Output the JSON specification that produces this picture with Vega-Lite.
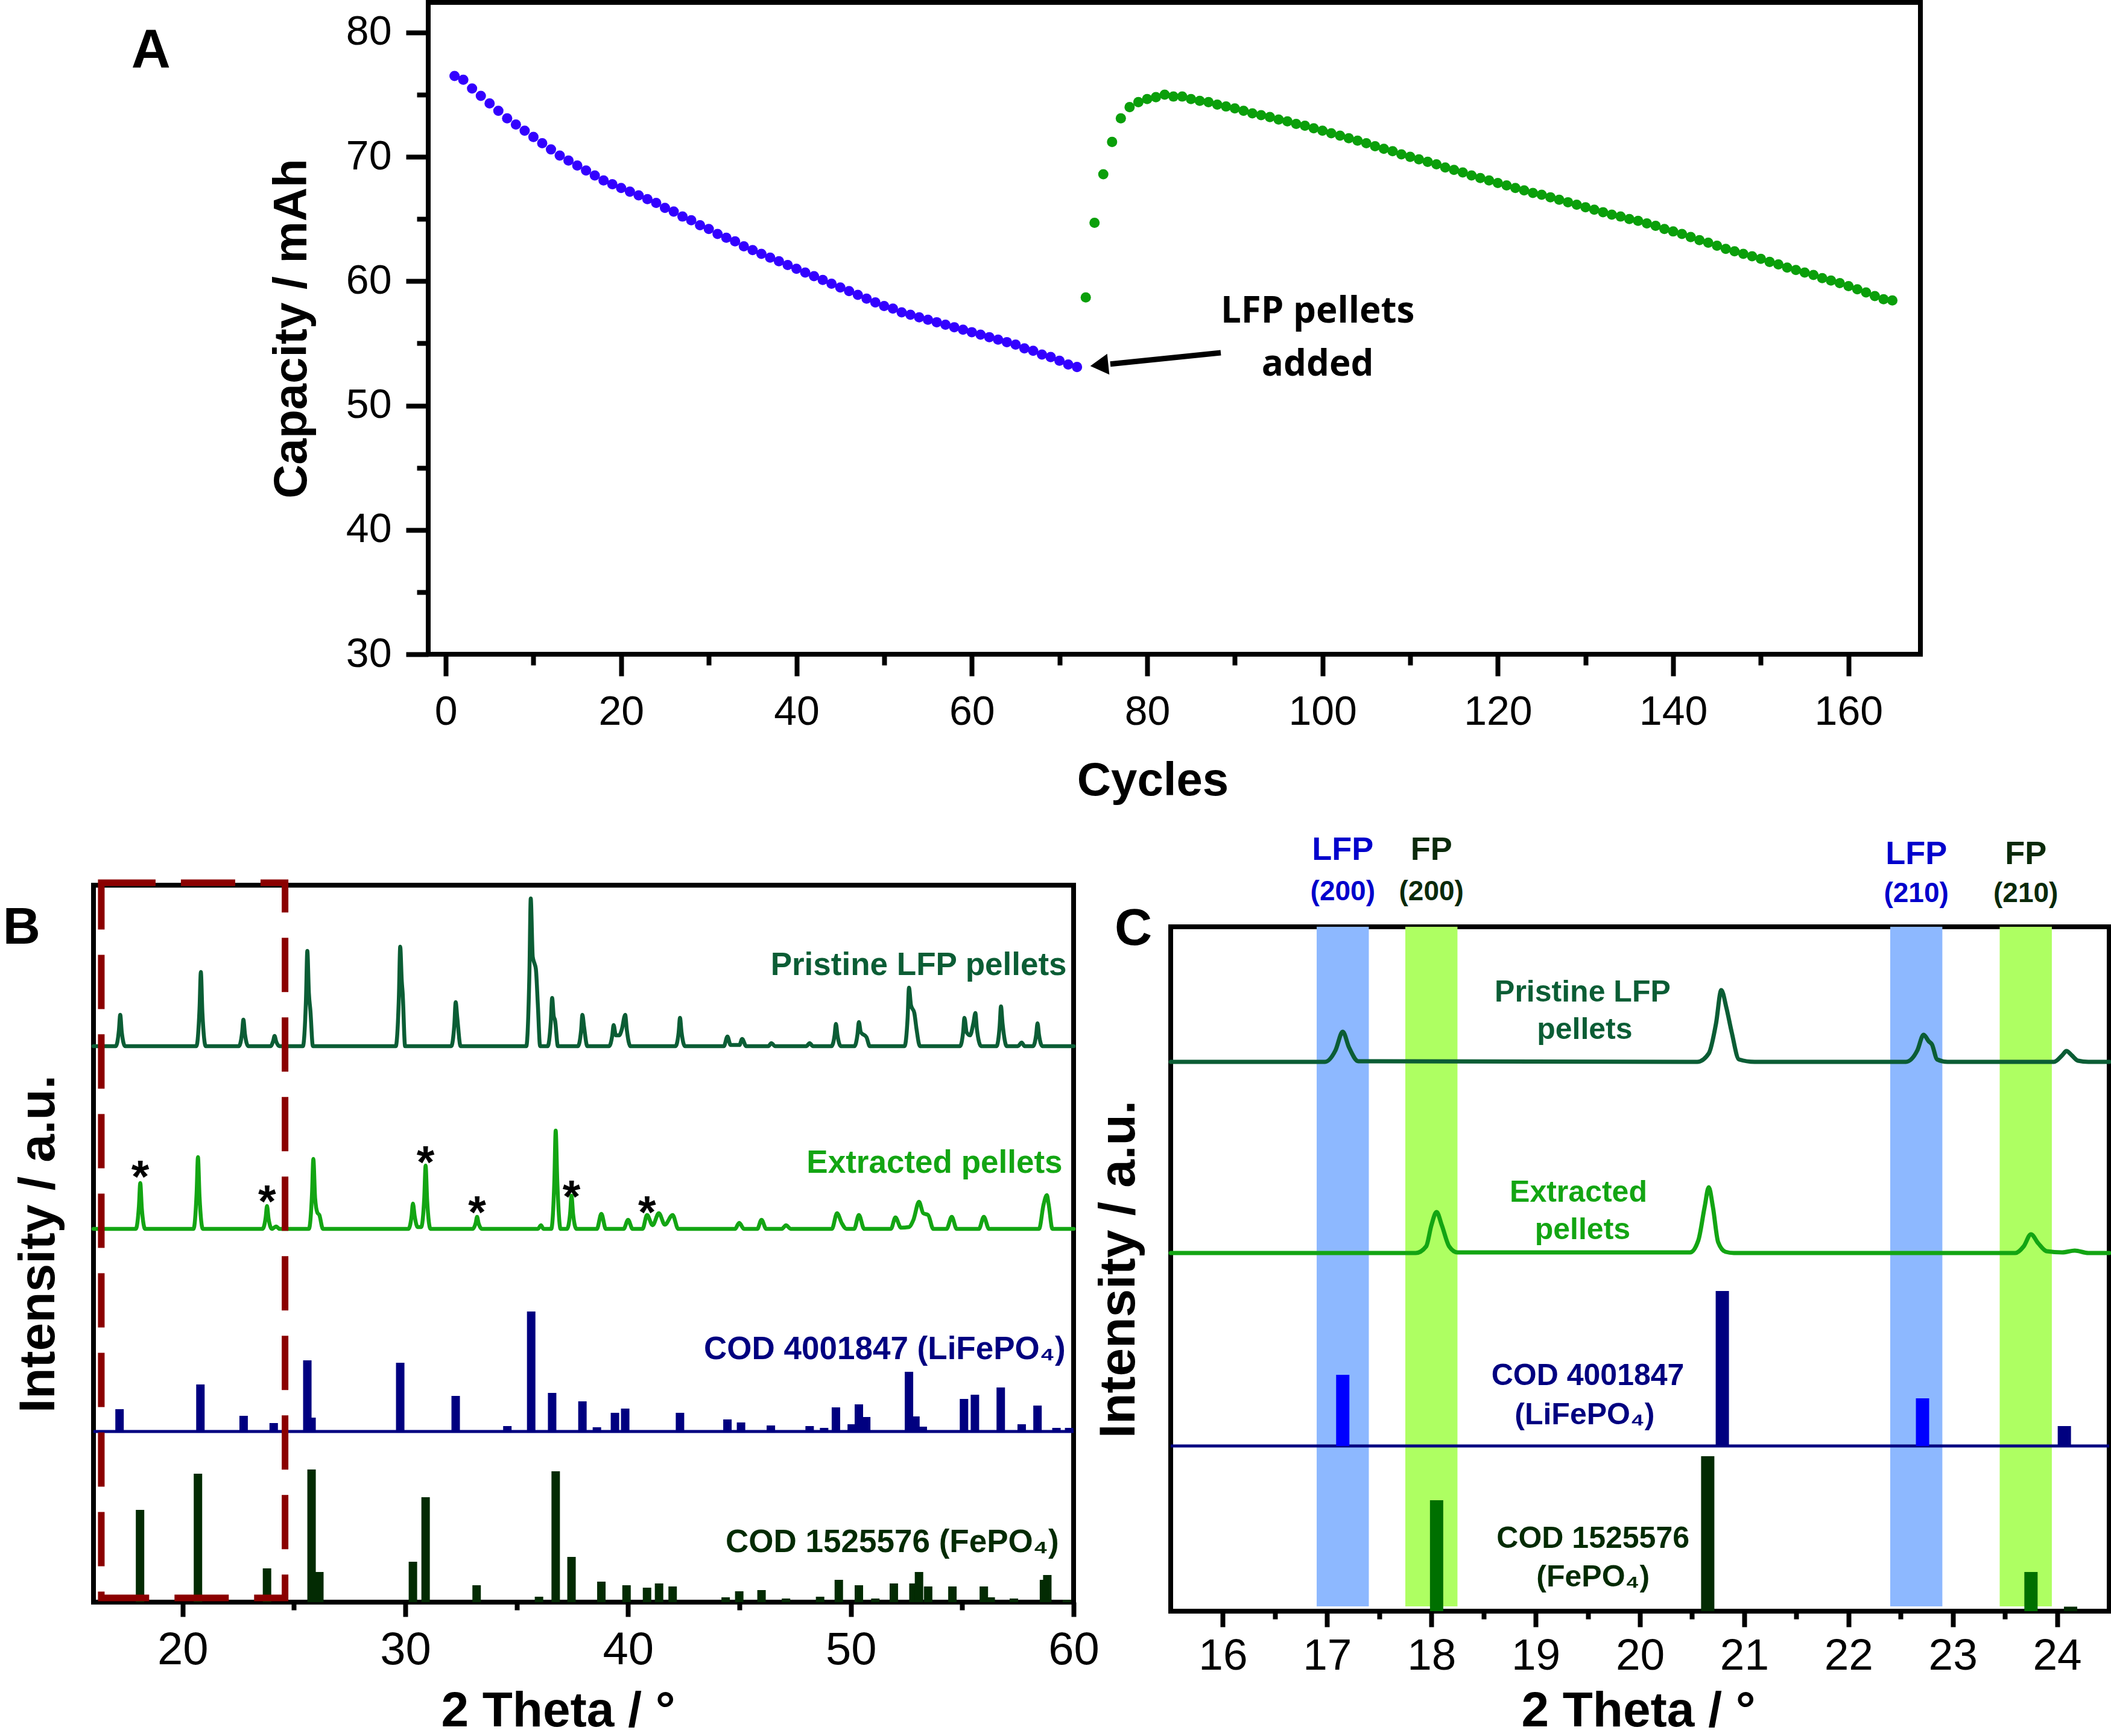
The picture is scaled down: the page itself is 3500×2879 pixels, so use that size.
{
  "$schema": "https://vega.github.io/schema/vega-lite/v6.json",
  "background": "white",
  "padding": 0,
  "bounds": "flush",
  "spacing": 383,
  "resolve": {"scale": {"color": "independent"}},
  "config": {
    "font": "Liberation Sans",
    "view": {"stroke": "black", "strokeWidth": 8},
    "axis": {
      "grid": false,
      "domain": false,
      "labelFlush": false,
      "labelOverlap": false,
      "tickColor": "black",
      "tickWidth": 8,
      "tickCap": "butt",
      "labelColor": "black",
      "labelFont": "Liberation Sans",
      "titleColor": "black",
      "titleFont": "Liberation Sans",
      "titleFontWeight": "bold"
    }
  },
  "vconcat": [
    {
      "width": 3029,
      "height": 1081,
      "view": {"stroke": null},
      "layer": [
        {
          "data": {"values": [
            {"cycle":1,"capacity":76.5,"stage":"before"},{"cycle":2,"capacity":76.2,"stage":"before"},{"cycle":3,"capacity":75.5,"stage":"before"},{"cycle":4,"capacity":74.9,"stage":"before"},{"cycle":5,"capacity":74.3,"stage":"before"},{"cycle":6,"capacity":73.7,"stage":"before"},{"cycle":7,"capacity":73.1,"stage":"before"},{"cycle":8,"capacity":72.6,"stage":"before"},{"cycle":9,"capacity":72.1,"stage":"before"},{"cycle":10,"capacity":71.6,"stage":"before"},
            {"cycle":11,"capacity":71.1,"stage":"before"},{"cycle":12,"capacity":70.6,"stage":"before"},{"cycle":13,"capacity":70.1,"stage":"before"},{"cycle":14,"capacity":69.7,"stage":"before"},{"cycle":15,"capacity":69.3,"stage":"before"},{"cycle":16,"capacity":68.9,"stage":"before"},{"cycle":17,"capacity":68.5,"stage":"before"},{"cycle":18,"capacity":68.1,"stage":"before"},{"cycle":19,"capacity":67.8,"stage":"before"},{"cycle":20,"capacity":67.5,"stage":"before"},
            {"cycle":21,"capacity":67.2,"stage":"before"},{"cycle":22,"capacity":66.9,"stage":"before"},{"cycle":23,"capacity":66.6,"stage":"before"},{"cycle":24,"capacity":66.3,"stage":"before"},{"cycle":25,"capacity":65.9,"stage":"before"},{"cycle":26,"capacity":65.6,"stage":"before"},{"cycle":27,"capacity":65.2,"stage":"before"},{"cycle":28,"capacity":64.9,"stage":"before"},{"cycle":29,"capacity":64.5,"stage":"before"},{"cycle":30,"capacity":64.2,"stage":"before"},
            {"cycle":31,"capacity":63.8,"stage":"before"},{"cycle":32,"capacity":63.5,"stage":"before"},{"cycle":33,"capacity":63.2,"stage":"before"},{"cycle":34,"capacity":62.8,"stage":"before"},{"cycle":35,"capacity":62.5,"stage":"before"},{"cycle":36,"capacity":62.2,"stage":"before"},{"cycle":37,"capacity":61.9,"stage":"before"},{"cycle":38,"capacity":61.6,"stage":"before"},{"cycle":39,"capacity":61.3,"stage":"before"},{"cycle":40,"capacity":61.0,"stage":"before"},
            {"cycle":41,"capacity":60.7,"stage":"before"},{"cycle":42,"capacity":60.4,"stage":"before"},{"cycle":43,"capacity":60.1,"stage":"before"},{"cycle":44,"capacity":59.8,"stage":"before"},{"cycle":45,"capacity":59.5,"stage":"before"},{"cycle":46,"capacity":59.2,"stage":"before"},{"cycle":47,"capacity":58.9,"stage":"before"},{"cycle":48,"capacity":58.6,"stage":"before"},{"cycle":49,"capacity":58.3,"stage":"before"},{"cycle":50,"capacity":58.0,"stage":"before"},
            {"cycle":51,"capacity":57.8,"stage":"before"},{"cycle":52,"capacity":57.5,"stage":"before"},{"cycle":53,"capacity":57.3,"stage":"before"},{"cycle":54,"capacity":57.1,"stage":"before"},{"cycle":55,"capacity":56.9,"stage":"before"},{"cycle":56,"capacity":56.7,"stage":"before"},{"cycle":57,"capacity":56.5,"stage":"before"},{"cycle":58,"capacity":56.3,"stage":"before"},{"cycle":59,"capacity":56.1,"stage":"before"},{"cycle":60,"capacity":55.9,"stage":"before"},
            {"cycle":61,"capacity":55.7,"stage":"before"},{"cycle":62,"capacity":55.5,"stage":"before"},{"cycle":63,"capacity":55.3,"stage":"before"},{"cycle":64,"capacity":55.1,"stage":"before"},{"cycle":65,"capacity":54.9,"stage":"before"},{"cycle":66,"capacity":54.6,"stage":"before"},{"cycle":67,"capacity":54.4,"stage":"before"},{"cycle":68,"capacity":54.1,"stage":"before"},{"cycle":69,"capacity":53.9,"stage":"before"},{"cycle":70,"capacity":53.6,"stage":"before"},
            {"cycle":71,"capacity":53.3,"stage":"before"},{"cycle":72,"capacity":53.1,"stage":"before"},
            {"cycle":73,"capacity":58.7,"stage":"after"},{"cycle":74,"capacity":64.7,"stage":"after"},{"cycle":75,"capacity":68.6,"stage":"after"},{"cycle":76,"capacity":71.2,"stage":"after"},{"cycle":77,"capacity":73.1,"stage":"after"},{"cycle":78,"capacity":74.0,"stage":"after"},{"cycle":79,"capacity":74.4,"stage":"after"},{"cycle":80,"capacity":74.65,"stage":"after"},
            {"cycle":81,"capacity":74.8,"stage":"after"},{"cycle":82,"capacity":75.0,"stage":"after"},{"cycle":83,"capacity":74.85,"stage":"after"},{"cycle":84,"capacity":74.85,"stage":"after"},{"cycle":85,"capacity":74.65,"stage":"after"},{"cycle":86,"capacity":74.5,"stage":"after"},{"cycle":87,"capacity":74.4,"stage":"after"},{"cycle":88,"capacity":74.2,"stage":"after"},{"cycle":89,"capacity":74.05,"stage":"after"},{"cycle":90,"capacity":73.9,"stage":"after"},
            {"cycle":91,"capacity":73.7,"stage":"after"},{"cycle":92,"capacity":73.5,"stage":"after"},{"cycle":93,"capacity":73.35,"stage":"after"},{"cycle":94,"capacity":73.2,"stage":"after"},{"cycle":95,"capacity":73.0,"stage":"after"},{"cycle":96,"capacity":72.85,"stage":"after"},{"cycle":97,"capacity":72.65,"stage":"after"},{"cycle":98,"capacity":72.5,"stage":"after"},{"cycle":99,"capacity":72.3,"stage":"after"},{"cycle":100,"capacity":72.1,"stage":"after"},
            {"cycle":101,"capacity":71.9,"stage":"after"},{"cycle":102,"capacity":71.7,"stage":"after"},{"cycle":103,"capacity":71.5,"stage":"after"},{"cycle":104,"capacity":71.3,"stage":"after"},{"cycle":105,"capacity":71.1,"stage":"after"},{"cycle":106,"capacity":70.85,"stage":"after"},{"cycle":107,"capacity":70.65,"stage":"after"},{"cycle":108,"capacity":70.45,"stage":"after"},{"cycle":109,"capacity":70.2,"stage":"after"},{"cycle":110,"capacity":70.0,"stage":"after"},
            {"cycle":111,"capacity":69.8,"stage":"after"},{"cycle":112,"capacity":69.6,"stage":"after"},{"cycle":113,"capacity":69.4,"stage":"after"},{"cycle":114,"capacity":69.15,"stage":"after"},{"cycle":115,"capacity":68.95,"stage":"after"},{"cycle":116,"capacity":68.75,"stage":"after"},{"cycle":117,"capacity":68.5,"stage":"after"},{"cycle":118,"capacity":68.3,"stage":"after"},{"cycle":119,"capacity":68.1,"stage":"after"},{"cycle":120,"capacity":67.9,"stage":"after"},
            {"cycle":121,"capacity":67.7,"stage":"after"},{"cycle":122,"capacity":67.5,"stage":"after"},{"cycle":123,"capacity":67.3,"stage":"after"},{"cycle":124,"capacity":67.1,"stage":"after"},{"cycle":125,"capacity":66.95,"stage":"after"},{"cycle":126,"capacity":66.75,"stage":"after"},{"cycle":127,"capacity":66.55,"stage":"after"},{"cycle":128,"capacity":66.35,"stage":"after"},{"cycle":129,"capacity":66.15,"stage":"after"},{"cycle":130,"capacity":65.95,"stage":"after"},
            {"cycle":131,"capacity":65.75,"stage":"after"},{"cycle":132,"capacity":65.55,"stage":"after"},{"cycle":133,"capacity":65.35,"stage":"after"},{"cycle":134,"capacity":65.2,"stage":"after"},{"cycle":135,"capacity":65.0,"stage":"after"},{"cycle":136,"capacity":64.85,"stage":"after"},{"cycle":137,"capacity":64.65,"stage":"after"},{"cycle":138,"capacity":64.45,"stage":"after"},{"cycle":139,"capacity":64.2,"stage":"after"},{"cycle":140,"capacity":64.0,"stage":"after"},
            {"cycle":141,"capacity":63.8,"stage":"after"},{"cycle":142,"capacity":63.55,"stage":"after"},{"cycle":143,"capacity":63.3,"stage":"after"},{"cycle":144,"capacity":63.1,"stage":"after"},{"cycle":145,"capacity":62.85,"stage":"after"},{"cycle":146,"capacity":62.6,"stage":"after"},{"cycle":147,"capacity":62.4,"stage":"after"},{"cycle":148,"capacity":62.2,"stage":"after"},{"cycle":149,"capacity":62.0,"stage":"after"},{"cycle":150,"capacity":61.8,"stage":"after"},
            {"cycle":151,"capacity":61.55,"stage":"after"},{"cycle":152,"capacity":61.35,"stage":"after"},{"cycle":153,"capacity":61.1,"stage":"after"},{"cycle":154,"capacity":60.9,"stage":"after"},{"cycle":155,"capacity":60.7,"stage":"after"},{"cycle":156,"capacity":60.5,"stage":"after"},{"cycle":157,"capacity":60.25,"stage":"after"},{"cycle":158,"capacity":60.05,"stage":"after"},{"cycle":159,"capacity":59.85,"stage":"after"},{"cycle":160,"capacity":59.6,"stage":"after"},
            {"cycle":161,"capacity":59.35,"stage":"after"},{"cycle":162,"capacity":59.1,"stage":"after"},{"cycle":163,"capacity":58.8,"stage":"after"},{"cycle":164,"capacity":58.55,"stage":"after"},{"cycle":165,"capacity":58.45,"stage":"after"}
          ]},
          "mark": {"type": "point", "filled": true, "size": 290, "opacity": 1},
          "encoding": {
            "x": {"field": "cycle", "type": "quantitative", "scale": {"domain": [-2, 168.2], "range": [555, 3029], "nice": false, "zero": false},
              "axis": {"orient": "bottom", "values": [0, 20, 40, 60, 80, 100, 120, 140, 160], "tickSize": 36, "labelFontSize": 68, "labelPadding": 26,
                "title": "Cycles", "titleFontSize": 78, "titleX": 1756, "titleY": 233, "titleAlign": "center", "titleBaseline": "alphabetic"}},
            "y": {"field": "capacity", "type": "quantitative", "scale": {"domain": [30, 82.42], "nice": false, "zero": false},
              "axis": {"orient": "left", "offset": -555, "values": [30, 40, 50, 60, 70, 80], "tickSize": 37, "labelFontSize": 68, "labelPadding": 24,
                "title": "Capacity / mAh", "titleFontSize": 78, "titlePadding": 50}},
            "color": {"field": "stage", "type": "nominal", "scale": {"domain": ["before", "after"], "range": ["#3300ff", "#0a9f0a"]}, "legend": null}
          }
        },
        {
          "data": {"values": [{"x": 88.4, "y": 54.25, "x2": 75.8, "y2": 53.34}]},
          "mark": {"type": "rule", "color": "black", "strokeWidth": 9},
          "encoding": {
            "x": {"field": "x", "type": "quantitative", "scale": {"domain": [-2, 168.2], "range": [555, 3029], "nice": false, "zero": false},
              "axis": {"orient": "bottom", "values": [10, 30, 50, 70, 90, 110, 130, 150], "tickSize": 18, "labels": false, "title": null}},
            "y": {"field": "y", "type": "quantitative", "scale": {"domain": [30, 82.42], "nice": false, "zero": false},
              "axis": {"orient": "left", "offset": -555, "values": [35, 45, 55, 65, 75], "tickSize": 19, "labels": false, "title": null}},
            "x2": {"field": "x2"},
            "y2": {"field": "y2"}
          }
        },
        {
          "data": {"values": [{"x": 74.54, "y": 53.25}]},
          "mark": {"type": "point", "shape": "triangle-left", "filled": true, "size": 1200, "angle": 354, "color": "black", "opacity": 1},
          "encoding": {
            "x": {"field": "x", "type": "quantitative", "scale": {"domain": [-2, 168.2], "range": [555, 3029], "nice": false, "zero": false}, "axis": null},
            "y": {"field": "y", "type": "quantitative", "scale": {"domain": [30, 82.42], "nice": false, "zero": false}, "axis": null}
          }
        },
        {
          "data": {"values": [{"x": 99.45, "y": 56.67, "text": "LFP pellets"}, {"x": 99.45, "y": 52.4, "text": "added"}]},
          "mark": {"type": "text", "font": "Open Sans", "fontWeight": 700, "fontSize": 60, "align": "center", "baseline": "alphabetic", "color": "black"},
          "encoding": {
            "x": {"field": "x", "type": "quantitative", "scale": {"domain": [-2, 168.2], "range": [555, 3029], "nice": false, "zero": false}, "axis": null},
            "y": {"field": "y", "type": "quantitative", "scale": {"domain": [30, 82.42], "nice": false, "zero": false}, "axis": null},
            "text": {"field": "text"}
          }
        },
        {
          "data": {"values": [{"x": -35.86, "y": 77.19, "text": "A"}]},
          "mark": {"type": "text", "fontWeight": "bold", "fontSize": 90, "align": "left", "baseline": "alphabetic", "color": "black"},
          "encoding": {
            "x": {"field": "x", "type": "quantitative", "scale": {"domain": [-2, 168.2], "range": [555, 3029], "nice": false, "zero": false}, "axis": null},
            "y": {"field": "y", "type": "quantitative", "scale": {"domain": [30, 82.42], "nice": false, "zero": false}, "axis": null},
            "text": {"field": "text"}
          }
        },
        {
          "data": {"values": [{"x1": -2, "x2": 168.2, "y1": 30, "y2": 82.42}]},
          "mark": {"type": "rect", "filled": false, "color": "black", "strokeWidth": 8},
          "encoding": {
            "x": {"field": "x1", "type": "quantitative", "scale": {"domain": [-2, 168.2], "range": [555, 3029], "nice": false, "zero": false}, "axis": null},
            "x2": {"field": "x2"},
            "y": {"field": "y1", "type": "quantitative", "scale": {"domain": [30, 82.42], "nice": false, "zero": false}, "axis": null},
            "y2": {"field": "y2"}
          }
        }
      ],
      "resolve": {"axis": {"x": "independent", "y": "independent"}}
    },
    {
      "bounds": "flush",
      "spacing": 161,
      "hconcat": [
        {
          "width": 1625,
          "height": 1189,
          "layer": [
            {
              "data": {"values": [
                {"pattern":"pristine","t":16.0,"i":922},{"pattern":"pristine","t":17.0,"i":922},{"pattern":"pristine","t":17.14,"i":948},{"pattern":"pristine","t":17.2,"i":974},{"pattern":"pristine","t":17.27,"i":945},{"pattern":"pristine","t":17.42,"i":922},
                {"pattern":"pristine","t":20.62,"i":922},{"pattern":"pristine","t":20.76,"i":984},{"pattern":"pristine","t":20.82,"i":1045},{"pattern":"pristine","t":20.89,"i":977},{"pattern":"pristine","t":21.04,"i":922},
                {"pattern":"pristine","t":22.53,"i":922},{"pattern":"pristine","t":22.67,"i":944},{"pattern":"pristine","t":22.73,"i":966},{"pattern":"pristine","t":22.8,"i":942},{"pattern":"pristine","t":22.95,"i":922},
                {"pattern":"pristine","t":23.95,"i":922},{"pattern":"pristine","t":24.07,"i":931},{"pattern":"pristine","t":24.13,"i":939},{"pattern":"pristine","t":24.2,"i":930},{"pattern":"pristine","t":24.35,"i":922},
                {"pattern":"pristine","t":25.4,"i":922},{"pattern":"pristine","t":25.54,"i":1001},{"pattern":"pristine","t":25.6,"i":1080},{"pattern":"pristine","t":25.67,"i":1010},{"pattern":"pristine","t":25.74,"i":980},{"pattern":"pristine","t":25.85,"i":922},
                {"pattern":"pristine","t":29.57,"i":922},{"pattern":"pristine","t":29.71,"i":1004},{"pattern":"pristine","t":29.77,"i":1087},{"pattern":"pristine","t":29.84,"i":1030},{"pattern":"pristine","t":29.88,"i":1010},{"pattern":"pristine","t":29.99,"i":922},
                {"pattern":"pristine","t":32.06,"i":922},{"pattern":"pristine","t":32.2,"i":958},{"pattern":"pristine","t":32.26,"i":995},{"pattern":"pristine","t":32.33,"i":970},{"pattern":"pristine","t":32.48,"i":922},
                {"pattern":"pristine","t":35.43,"i":922},{"pattern":"pristine","t":35.57,"i":1044},{"pattern":"pristine","t":35.63,"i":1167},{"pattern":"pristine","t":35.72,"i":1070},{"pattern":"pristine","t":35.8,"i":1059},{"pattern":"pristine","t":35.86,"i":1050},{"pattern":"pristine","t":35.95,"i":990},{"pattern":"pristine","t":36.05,"i":922},
                {"pattern":"pristine","t":36.39,"i":922},{"pattern":"pristine","t":36.53,"i":962},{"pattern":"pristine","t":36.59,"i":1002},{"pattern":"pristine","t":36.66,"i":972},{"pattern":"pristine","t":36.72,"i":965},{"pattern":"pristine","t":36.85,"i":922},
                {"pattern":"pristine","t":37.75,"i":922},{"pattern":"pristine","t":37.89,"i":948},{"pattern":"pristine","t":37.95,"i":974},{"pattern":"pristine","t":38.02,"i":955},{"pattern":"pristine","t":38.17,"i":922},
                {"pattern":"pristine","t":39.15,"i":922},{"pattern":"pristine","t":39.29,"i":940},{"pattern":"pristine","t":39.35,"i":957},{"pattern":"pristine","t":39.45,"i":940},{"pattern":"pristine","t":39.6,"i":940},{"pattern":"pristine","t":39.72,"i":950},{"pattern":"pristine","t":39.87,"i":974},{"pattern":"pristine","t":39.94,"i":950},{"pattern":"pristine","t":40.1,"i":922},
                {"pattern":"pristine","t":42.13,"i":922},{"pattern":"pristine","t":42.27,"i":945},{"pattern":"pristine","t":42.33,"i":969},{"pattern":"pristine","t":42.4,"i":945},{"pattern":"pristine","t":42.55,"i":922},
                {"pattern":"pristine","t":44.3,"i":922},{"pattern":"pristine","t":44.46,"i":938},{"pattern":"pristine","t":44.6,"i":924},{"pattern":"pristine","t":45.0,"i":924},{"pattern":"pristine","t":45.12,"i":934},{"pattern":"pristine","t":45.3,"i":922},
                {"pattern":"pristine","t":46.3,"i":922},{"pattern":"pristine","t":46.43,"i":927},{"pattern":"pristine","t":46.6,"i":922},
                {"pattern":"pristine","t":48.0,"i":922},{"pattern":"pristine","t":48.15,"i":927},{"pattern":"pristine","t":48.3,"i":922},
                {"pattern":"pristine","t":49.13,"i":922},{"pattern":"pristine","t":49.27,"i":940},{"pattern":"pristine","t":49.33,"i":959},{"pattern":"pristine","t":49.4,"i":940},{"pattern":"pristine","t":49.55,"i":922},
                {"pattern":"pristine","t":50.16,"i":922},{"pattern":"pristine","t":50.3,"i":942},{"pattern":"pristine","t":50.36,"i":962},{"pattern":"pristine","t":50.45,"i":945},{"pattern":"pristine","t":50.7,"i":937},{"pattern":"pristine","t":50.85,"i":922},
                {"pattern":"pristine","t":52.41,"i":922},{"pattern":"pristine","t":52.55,"i":970},{"pattern":"pristine","t":52.61,"i":1019},{"pattern":"pristine","t":52.7,"i":990},{"pattern":"pristine","t":52.85,"i":977},{"pattern":"pristine","t":52.95,"i":950},{"pattern":"pristine","t":53.1,"i":922},
                {"pattern":"pristine","t":54.9,"i":922},{"pattern":"pristine","t":55.04,"i":945},{"pattern":"pristine","t":55.1,"i":969},{"pattern":"pristine","t":55.2,"i":945},{"pattern":"pristine","t":55.35,"i":940},{"pattern":"pristine","t":55.5,"i":960},{"pattern":"pristine","t":55.59,"i":977},{"pattern":"pristine","t":55.66,"i":950},{"pattern":"pristine","t":55.85,"i":922},
                {"pattern":"pristine","t":56.54,"i":922},{"pattern":"pristine","t":56.68,"i":955},{"pattern":"pristine","t":56.74,"i":988},{"pattern":"pristine","t":56.81,"i":960},{"pattern":"pristine","t":57.0,"i":922},
                {"pattern":"pristine","t":57.5,"i":922},{"pattern":"pristine","t":57.67,"i":928},{"pattern":"pristine","t":57.8,"i":922},
                {"pattern":"pristine","t":58.18,"i":922},{"pattern":"pristine","t":58.32,"i":941},{"pattern":"pristine","t":58.38,"i":960},{"pattern":"pristine","t":58.45,"i":940},{"pattern":"pristine","t":58.6,"i":922},
                {"pattern":"pristine","t":60.0,"i":922},
                {"pattern":"extracted","t":16.0,"i":619},{"pattern":"extracted","t":17.9,"i":619},{"pattern":"extracted","t":18.04,"i":657},{"pattern":"extracted","t":18.1,"i":695},{"pattern":"extracted","t":18.17,"i":653},{"pattern":"extracted","t":18.32,"i":619},
                {"pattern":"extracted","t":20.49,"i":619},{"pattern":"extracted","t":20.63,"i":679},{"pattern":"extracted","t":20.69,"i":738},{"pattern":"extracted","t":20.76,"i":673},{"pattern":"extracted","t":20.91,"i":619},
                {"pattern":"extracted","t":23.59,"i":619},{"pattern":"extracted","t":23.73,"i":638},{"pattern":"extracted","t":23.79,"i":657},{"pattern":"extracted","t":23.86,"i":636},{"pattern":"extracted","t":24.01,"i":619},{"pattern":"extracted","t":24.2,"i":623},{"pattern":"extracted","t":24.35,"i":619},
                {"pattern":"extracted","t":25.67,"i":619},{"pattern":"extracted","t":25.81,"i":677},{"pattern":"extracted","t":25.87,"i":735},{"pattern":"extracted","t":25.95,"i":670},{"pattern":"extracted","t":26.05,"i":646},{"pattern":"extracted","t":26.14,"i":642},{"pattern":"extracted","t":26.3,"i":619},
                {"pattern":"extracted","t":30.14,"i":619},{"pattern":"extracted","t":30.28,"i":640},{"pattern":"extracted","t":30.34,"i":661},{"pattern":"extracted","t":30.42,"i":640},{"pattern":"extracted","t":30.55,"i":622},{"pattern":"extracted","t":30.71,"i":622},{"pattern":"extracted","t":30.85,"i":671},{"pattern":"extracted","t":30.91,"i":724},{"pattern":"extracted","t":30.98,"i":666},{"pattern":"extracted","t":31.13,"i":619},
                {"pattern":"extracted","t":33.02,"i":619},{"pattern":"extracted","t":33.16,"i":629},{"pattern":"extracted","t":33.22,"i":639},{"pattern":"extracted","t":33.29,"i":628},{"pattern":"extracted","t":33.44,"i":619},
                {"pattern":"extracted","t":35.95,"i":619},{"pattern":"extracted","t":36.09,"i":625},{"pattern":"extracted","t":36.2,"i":619},
                {"pattern":"extracted","t":36.55,"i":619},{"pattern":"extracted","t":36.69,"i":700},{"pattern":"extracted","t":36.75,"i":782},{"pattern":"extracted","t":36.82,"i":700},{"pattern":"extracted","t":36.97,"i":619},
                {"pattern":"extracted","t":37.26,"i":619},{"pattern":"extracted","t":37.4,"i":646},{"pattern":"extracted","t":37.46,"i":674},{"pattern":"extracted","t":37.53,"i":644},{"pattern":"extracted","t":37.68,"i":619},
                {"pattern":"extracted","t":38.6,"i":619},{"pattern":"extracted","t":38.8,"i":644},{"pattern":"extracted","t":39.0,"i":619},
                {"pattern":"extracted","t":39.8,"i":619},{"pattern":"extracted","t":40.0,"i":634},{"pattern":"extracted","t":40.2,"i":619},
                {"pattern":"extracted","t":40.65,"i":619},{"pattern":"extracted","t":40.85,"i":642},{"pattern":"extracted","t":41.1,"i":625},{"pattern":"extracted","t":41.38,"i":645},{"pattern":"extracted","t":41.65,"i":626},{"pattern":"extracted","t":42.0,"i":642},{"pattern":"extracted","t":42.25,"i":619},
                {"pattern":"extracted","t":44.8,"i":619},{"pattern":"extracted","t":44.99,"i":629},{"pattern":"extracted","t":45.2,"i":619},
                {"pattern":"extracted","t":45.8,"i":619},{"pattern":"extracted","t":45.99,"i":634},{"pattern":"extracted","t":46.2,"i":619},
                {"pattern":"extracted","t":46.9,"i":619},{"pattern":"extracted","t":47.09,"i":625},{"pattern":"extracted","t":47.3,"i":619},
                {"pattern":"extracted","t":49.15,"i":619},{"pattern":"extracted","t":49.38,"i":645},{"pattern":"extracted","t":49.6,"i":628},{"pattern":"extracted","t":49.8,"i":619},
                {"pattern":"extracted","t":50.15,"i":619},{"pattern":"extracted","t":50.36,"i":642},{"pattern":"extracted","t":50.6,"i":619},
                {"pattern":"extracted","t":51.8,"i":619},{"pattern":"extracted","t":52.0,"i":638},{"pattern":"extracted","t":52.25,"i":621},{"pattern":"extracted","t":52.6,"i":622},{"pattern":"extracted","t":52.81,"i":634},{"pattern":"extracted","t":53.06,"i":664},{"pattern":"extracted","t":53.25,"i":645},{"pattern":"extracted","t":53.47,"i":642},{"pattern":"extracted","t":53.7,"i":619},
                {"pattern":"extracted","t":54.3,"i":619},{"pattern":"extracted","t":54.53,"i":639},{"pattern":"extracted","t":54.75,"i":619},
                {"pattern":"extracted","t":55.75,"i":619},{"pattern":"extracted","t":55.97,"i":639},{"pattern":"extracted","t":56.2,"i":619},
                {"pattern":"extracted","t":58.45,"i":619},{"pattern":"extracted","t":58.65,"i":659},{"pattern":"extracted","t":58.8,"i":675},{"pattern":"extracted","t":58.88,"i":660},{"pattern":"extracted","t":59.05,"i":619},
                {"pattern":"extracted","t":60.0,"i":619}
              ]},
              "mark": {"type": "line", "strokeWidth": 6.5, "interpolate": "monotone", "strokeJoin": "round", "strokeCap": "round"},
              "encoding": {
                "x": {"field": "t", "type": "quantitative", "scale": {"domain": [16, 60], "nice": false, "zero": false},
                  "axis": {"orient": "bottom", "values": [20, 30, 40, 50, 60], "tickSize": 24, "labelFontSize": 76, "labelPadding": 18,
                    "title": "2 Theta / °", "titleFontSize": 82, "titleX": 770, "titleY": 205, "titleAlign": "center", "titleBaseline": "alphabetic"}},
                "y": {"field": "i", "type": "quantitative", "scale": {"domain": [0, 1189], "nice": false, "zero": false},
                  "axis": {"orient": "left", "labels": false, "ticks": false, "title": "Intensity / a.u.", "titleFontSize": 84, "titlePadding": 48}},
                "color": {"field": "pattern", "type": "nominal", "scale": {"domain": ["pristine", "extracted", "LiFePO4", "FePO4"], "range": ["#0b5d35", "#13a513", "#000080", "#032b03"]}, "legend": null}
              }
            },
            {
              "data": {"values": [{"pattern": "LiFePO4", "base": 283}]},
              "mark": {"type": "rule", "strokeWidth": 5},
              "encoding": {
                "y": {"field": "base", "type": "quantitative", "scale": {"domain": [0, 1189], "nice": false, "zero": false}, "axis": null},
                "color": {"field": "pattern", "type": "nominal", "scale": {"domain": ["pristine", "extracted", "LiFePO4", "FePO4"], "range": ["#0b5d35", "#13a513", "#000080", "#032b03"]}, "legend": null}
              }
            },
            {
              "data": {"values": [
                {"pattern":"LiFePO4","t":17.17,"i":320},{"pattern":"LiFePO4","t":20.8,"i":361},{"pattern":"LiFePO4","t":22.74,"i":309},{"pattern":"LiFePO4","t":24.09,"i":297},{"pattern":"LiFePO4","t":25.6,"i":401},{"pattern":"LiFePO4","t":25.79,"i":306},
                {"pattern":"LiFePO4","t":29.77,"i":397},{"pattern":"LiFePO4","t":32.26,"i":342},{"pattern":"LiFePO4","t":34.58,"i":292},{"pattern":"LiFePO4","t":35.65,"i":482},{"pattern":"LiFePO4","t":36.59,"i":347},{"pattern":"LiFePO4","t":37.95,"i":333},
                {"pattern":"LiFePO4","t":38.6,"i":290},{"pattern":"LiFePO4","t":39.41,"i":314},{"pattern":"LiFePO4","t":39.87,"i":321},{"pattern":"LiFePO4","t":42.33,"i":314},{"pattern":"LiFePO4","t":44.46,"i":303},{"pattern":"LiFePO4","t":45.07,"i":298},
                {"pattern":"LiFePO4","t":46.41,"i":293},{"pattern":"LiFePO4","t":48.15,"i":292},{"pattern":"LiFePO4","t":48.8,"i":289},{"pattern":"LiFePO4","t":49.33,"i":323},{"pattern":"LiFePO4","t":50.04,"i":295},{"pattern":"LiFePO4","t":50.36,"i":328},
                {"pattern":"LiFePO4","t":50.69,"i":307},{"pattern":"LiFePO4","t":52.61,"i":382},{"pattern":"LiFePO4","t":52.9,"i":308},{"pattern":"LiFePO4","t":53.23,"i":291},{"pattern":"LiFePO4","t":55.08,"i":337},{"pattern":"LiFePO4","t":55.57,"i":344},
                {"pattern":"LiFePO4","t":56.73,"i":356},{"pattern":"LiFePO4","t":57.67,"i":295},{"pattern":"LiFePO4","t":58.38,"i":326},{"pattern":"LiFePO4","t":59.23,"i":289},{"pattern":"LiFePO4","t":59.8,"i":289}
              ]},
              "mark": {"type": "rule", "strokeWidth": 14, "strokeCap": "butt"},
              "encoding": {
                "x": {"field": "t", "type": "quantitative", "scale": {"domain": [16, 60], "nice": false, "zero": false},
                  "axis": {"orient": "bottom", "values": [25, 35, 45, 55], "tickSize": 13, "labels": false, "title": null}},
                "y": {"field": "i", "type": "quantitative", "scale": {"domain": [0, 1189], "nice": false, "zero": false}, "axis": null},
                "y2": {"datum": 283},
                "color": {"field": "pattern", "type": "nominal", "scale": {"domain": ["pristine", "extracted", "LiFePO4", "FePO4"], "range": ["#0b5d35", "#13a513", "#000080", "#032b03"]}, "legend": null}
              }
            },
            {
              "data": {"values": [
                {"pattern":"FePO4","t":18.09,"i":153},{"pattern":"FePO4","t":20.69,"i":213},{"pattern":"FePO4","t":23.79,"i":56},{"pattern":"FePO4","t":25.79,"i":220},{"pattern":"FePO4","t":26.14,"i":50},{"pattern":"FePO4","t":30.34,"i":67},
                {"pattern":"FePO4","t":30.91,"i":174},{"pattern":"FePO4","t":33.2,"i":28},{"pattern":"FePO4","t":36.0,"i":9},{"pattern":"FePO4","t":36.75,"i":217},{"pattern":"FePO4","t":37.46,"i":75},{"pattern":"FePO4","t":38.8,"i":34},
                {"pattern":"FePO4","t":39.93,"i":28},{"pattern":"FePO4","t":40.85,"i":24},{"pattern":"FePO4","t":41.39,"i":31},{"pattern":"FePO4","t":42.0,"i":26},{"pattern":"FePO4","t":44.38,"i":8},{"pattern":"FePO4","t":44.99,"i":18},
                {"pattern":"FePO4","t":45.99,"i":20},{"pattern":"FePO4","t":47.09,"i":6},{"pattern":"FePO4","t":48.62,"i":9},{"pattern":"FePO4","t":49.46,"i":37},{"pattern":"FePO4","t":50.36,"i":28},{"pattern":"FePO4","t":51.1,"i":6},
                {"pattern":"FePO4","t":51.93,"i":31},{"pattern":"FePO4","t":52.81,"i":31},{"pattern":"FePO4","t":53.06,"i":50},{"pattern":"FePO4","t":53.47,"i":26},{"pattern":"FePO4","t":54.56,"i":26},{"pattern":"FePO4","t":55.97,"i":26},
                {"pattern":"FePO4","t":56.28,"i":8},{"pattern":"FePO4","t":57.32,"i":6},{"pattern":"FePO4","t":58.67,"i":37},{"pattern":"FePO4","t":58.82,"i":45},{"pattern":"FePO4","t":59.7,"i":4}
              ]},
              "mark": {"type": "rule", "strokeWidth": 14, "strokeCap": "butt"},
              "encoding": {
                "x": {"field": "t", "type": "quantitative", "scale": {"domain": [16, 60], "nice": false, "zero": false}, "axis": null},
                "y": {"field": "i", "type": "quantitative", "scale": {"domain": [0, 1189], "nice": false, "zero": false}, "axis": null},
                "y2": {"datum": 0},
                "color": {"field": "pattern", "type": "nominal", "scale": {"domain": ["pristine", "extracted", "LiFePO4", "FePO4"], "range": ["#0b5d35", "#13a513", "#000080", "#032b03"]}, "legend": null}
              }
            },
            {
              "data": {"values": [{"t": 18.1, "i": 724}, {"t": 23.79, "i": 683}, {"t": 30.91, "i": 748}, {"t": 33.22, "i": 665}, {"t": 37.46, "i": 691}, {"t": 40.85, "i": 665}]},
              "mark": {"type": "text", "text": "*", "fontSize": 76, "fontWeight": "bold", "align": "center", "baseline": "alphabetic", "dy": 44, "color": "black"},
              "encoding": {
                "x": {"field": "t", "type": "quantitative", "scale": {"domain": [16, 60], "nice": false, "zero": false}, "axis": null},
                "y": {"field": "i", "type": "quantitative", "scale": {"domain": [0, 1189], "nice": false, "zero": false}, "axis": null}
              }
            },
            {
              "data": {"values": [
                {"pattern": "pristine", "t": 59.69, "i": 1040, "label": "Pristine LFP pellets"},
                {"pattern": "extracted", "t": 59.5, "i": 712, "label": "Extracted pellets"},
                {"pattern": "LiFePO4", "t": 59.64, "i": 403, "label": "COD 4001847 (LiFePO₄)"},
                {"pattern": "FePO4", "t": 59.34, "i": 83, "label": "COD 1525576 (FePO₄)"}
              ]},
              "mark": {"type": "text", "fontSize": 53, "fontWeight": "bold", "align": "right", "baseline": "alphabetic"},
              "encoding": {
                "x": {"field": "t", "type": "quantitative", "scale": {"domain": [16, 60], "nice": false, "zero": false}, "axis": null},
                "y": {"field": "i", "type": "quantitative", "scale": {"domain": [0, 1189], "nice": false, "zero": false}, "axis": null},
                "text": {"field": "label"},
                "color": {"field": "pattern", "type": "nominal", "scale": {"domain": ["pristine", "extracted", "LiFePO4", "FePO4"], "range": ["#0b5d35", "#13a513", "#000080", "#032b03"]}, "legend": null}
              }
            },
            {
              "data": {"values": [{"from": 16.35, "to": 24.6, "bottom": 7, "top": 1193}]},
              "mark": {"type": "rect", "filled": false, "color": "#8b0000", "strokeWidth": 11, "strokeDash": [90, 42]},
              "encoding": {
                "x": {"field": "from", "type": "quantitative", "scale": {"domain": [16, 60], "nice": false, "zero": false}, "axis": null},
                "x2": {"field": "to"},
                "y": {"field": "bottom", "type": "quantitative", "scale": {"domain": [0, 1189], "nice": false, "zero": false}, "axis": null},
                "y2": {"field": "top"}
              }
            },
            {
              "data": {"values": [{"t": 11.93, "i": 1092, "text": "B"}]},
              "mark": {"type": "text", "fontWeight": "bold", "fontSize": 86, "align": "left", "baseline": "alphabetic", "color": "black"},
              "encoding": {
                "x": {"field": "t", "type": "quantitative", "scale": {"domain": [16, 60], "nice": false, "zero": false}, "axis": null},
                "y": {"field": "i", "type": "quantitative", "scale": {"domain": [0, 1189], "nice": false, "zero": false}, "axis": null},
                "text": {"field": "text"}
              }
            }
          ],
          "resolve": {"axis": {"x": "independent", "y": "independent"}}
        },
        {
          "bounds": "flush",
          "spacing": 0,
          "vconcat": [
            {"width": 1556, "height": 69, "view": {"stroke": null}, "data": {"values": []}, "mark": "point"},
            {
              "width": 1556,
              "height": 1135,
              "layer": [
                {
                  "data": {"values": [
                    {"phase": "LFP", "from": 16.9, "to": 17.4},
                    {"phase": "FP", "from": 17.75, "to": 18.25},
                    {"phase": "LFP", "from": 22.4, "to": 22.9},
                    {"phase": "FP", "from": 23.45, "to": 23.95}
                  ]},
                  "mark": {"type": "rect"},
                  "encoding": {
                    "x": {"field": "from", "type": "quantitative", "scale": {"domain": [15.5, 24.5], "nice": false, "zero": false}, "axis": null},
                    "x2": {"field": "to"},
                    "y": {"datum": 8, "type": "quantitative", "scale": {"domain": [0, 1135], "nice": false, "zero": false}, "axis": null},
                    "y2": {"datum": 1135},
                    "color": {"condition": {"test": "datum.phase === 'LFP'", "value": "#8db8ff"}, "value": "#aeff62"}
                  }
                },
                {
                  "data": {"values": [
                    {"pattern":"pristine","t":15.5,"i":911},{"pattern":"pristine","t":16.98,"i":911},{"pattern":"pristine","t":17.08,"i":930},{"pattern":"pristine","t":17.15,"i":961},{"pattern":"pristine","t":17.21,"i":935},{"pattern":"pristine","t":17.3,"i":912},
                    {"pattern":"pristine","t":20.55,"i":911},{"pattern":"pristine","t":20.66,"i":925},{"pattern":"pristine","t":20.73,"i":975},{"pattern":"pristine","t":20.78,"i":1030},{"pattern":"pristine","t":20.83,"i":1000},{"pattern":"pristine","t":20.88,"i":960},{"pattern":"pristine","t":20.95,"i":915},{"pattern":"pristine","t":21.1,"i":911},
                    {"pattern":"pristine","t":22.55,"i":911},{"pattern":"pristine","t":22.66,"i":930},{"pattern":"pristine","t":22.72,"i":956},{"pattern":"pristine","t":22.77,"i":945},{"pattern":"pristine","t":22.8,"i":940},{"pattern":"pristine","t":22.85,"i":915},{"pattern":"pristine","t":22.95,"i":911},
                    {"pattern":"pristine","t":23.97,"i":911},{"pattern":"pristine","t":24.05,"i":922},{"pattern":"pristine","t":24.09,"i":929},{"pattern":"pristine","t":24.14,"i":922},{"pattern":"pristine","t":24.2,"i":913},{"pattern":"pristine","t":24.3,"i":911},{"pattern":"pristine","t":24.5,"i":911},
                    {"pattern":"extracted","t":15.5,"i":594},{"pattern":"extracted","t":17.85,"i":594},{"pattern":"extracted","t":17.95,"i":605},{"pattern":"extracted","t":18.0,"i":640},{"pattern":"extracted","t":18.05,"i":662},{"pattern":"extracted","t":18.1,"i":640},{"pattern":"extracted","t":18.17,"i":605},{"pattern":"extracted","t":18.25,"i":595},
                    {"pattern":"extracted","t":20.48,"i":595},{"pattern":"extracted","t":20.56,"i":615},{"pattern":"extracted","t":20.62,"i":670},{"pattern":"extracted","t":20.66,"i":703},{"pattern":"extracted","t":20.7,"i":670},{"pattern":"extracted","t":20.75,"i":612},{"pattern":"extracted","t":20.82,"i":596},{"pattern":"extracted","t":20.9,"i":594},
                    {"pattern":"extracted","t":23.6,"i":594},{"pattern":"extracted","t":23.68,"i":605},{"pattern":"extracted","t":23.75,"i":625},{"pattern":"extracted","t":23.82,"i":610},{"pattern":"extracted","t":23.9,"i":597},{"pattern":"extracted","t":24.05,"i":595},{"pattern":"extracted","t":24.17,"i":598},{"pattern":"extracted","t":24.3,"i":594},{"pattern":"extracted","t":24.5,"i":594}
                  ]},
                  "mark": {"type": "line", "strokeWidth": 7, "interpolate": "monotone", "strokeJoin": "round", "strokeCap": "round"},
                  "encoding": {
                    "x": {"field": "t", "type": "quantitative", "scale": {"domain": [15.5, 24.5], "nice": false, "zero": false},
                      "axis": {"orient": "bottom", "values": [16, 17, 18, 19, 20, 21, 22, 23, 24], "tickSize": 26, "labelFontSize": 73, "labelPadding": 12,
                        "title": "2 Theta / °", "titleFontSize": 82, "titleX": 775, "titleY": 190, "titleAlign": "center", "titleBaseline": "alphabetic"}},
                    "y": {"field": "i", "type": "quantitative", "scale": {"domain": [0, 1135], "nice": false, "zero": false},
                      "axis": {"orient": "left", "labels": false, "ticks": false, "title": "Intensity / a.u.", "titleFontSize": 84, "titlePadding": 43}},
                    "color": {"field": "pattern", "type": "nominal", "scale": {"domain": ["pristine", "extracted", "LiFePO4", "FePO4"], "range": ["#0b5d35", "#13a513", "#000080", "#032b03"]}, "legend": null}
                  }
                },
                {
                  "data": {"values": [{"pattern": "LiFePO4", "base": 274}]},
                  "mark": {"type": "rule", "strokeWidth": 5},
                  "encoding": {
                    "y": {"field": "base", "type": "quantitative", "scale": {"domain": [0, 1135], "nice": false, "zero": false}, "axis": null},
                    "color": {"field": "pattern", "type": "nominal", "scale": {"domain": ["pristine", "extracted", "LiFePO4", "FePO4"], "range": ["#0b5d35", "#13a513", "#000080", "#032b03"]}, "legend": null}
                  }
                },
                {
                  "data": {"values": [
                    {"t": 17.15, "i": 392, "hkl": "(200)"},
                    {"t": 20.79, "i": 531},
                    {"t": 22.71, "i": 353, "hkl": "(210)"},
                    {"t": 24.07, "i": 307}
                  ]},
                  "mark": {"type": "rule", "strokeWidth": 22, "strokeCap": "butt"},
                  "encoding": {
                    "x": {"field": "t", "type": "quantitative", "scale": {"domain": [15.5, 24.5], "nice": false, "zero": false},
                      "axis": {"orient": "bottom", "values": [16.5, 17.5, 18.5, 19.5, 20.5, 21.5, 22.5, 23.5], "tickSize": 13, "labels": false, "title": null}},
                    "y": {"field": "i", "type": "quantitative", "scale": {"domain": [0, 1135], "nice": false, "zero": false}, "axis": null},
                    "y2": {"datum": 274},
                    "color": {"condition": {"test": "datum.hkl != null", "value": "#0000ff"}, "value": "#000080"}
                  }
                },
                {
                  "data": {"values": [
                    {"t": 18.05, "i": 184, "hkl": "(200)"},
                    {"t": 20.65, "i": 257},
                    {"t": 23.75, "i": 65, "hkl": "(210)"},
                    {"t": 24.13, "i": 7.5}
                  ]},
                  "mark": {"type": "rule", "strokeWidth": 22, "strokeCap": "butt"},
                  "encoding": {
                    "x": {"field": "t", "type": "quantitative", "scale": {"domain": [15.5, 24.5], "nice": false, "zero": false}, "axis": null},
                    "y": {"field": "i", "type": "quantitative", "scale": {"domain": [0, 1135], "nice": false, "zero": false}, "axis": null},
                    "y2": {"datum": 0},
                    "color": {"condition": {"test": "datum.hkl != null", "value": "#007000"}, "value": "#032b03"}
                  }
                },
                {
                  "data": {"values": [
                    {"pattern": "pristine", "t": 19.45, "i": 1011, "label": "Pristine LFP"},
                    {"pattern": "pristine", "t": 19.47, "i": 949, "label": "pellets"},
                    {"pattern": "extracted", "t": 19.41, "i": 679, "label": "Extracted"},
                    {"pattern": "extracted", "t": 19.45, "i": 617, "label": "pellets"},
                    {"pattern": "LiFePO4", "t": 19.5, "i": 375, "label": "COD 4001847"},
                    {"pattern": "LiFePO4", "t": 19.47, "i": 310, "label": "(LiFePO₄)"},
                    {"pattern": "FePO4", "t": 19.55, "i": 105, "label": "COD 1525576"},
                    {"pattern": "FePO4", "t": 19.55, "i": 41, "label": "(FePO₄)"}
                  ]},
                  "mark": {"type": "text", "fontSize": 50, "fontWeight": "bold", "align": "center", "baseline": "alphabetic"},
                  "encoding": {
                    "x": {"field": "t", "type": "quantitative", "scale": {"domain": [15.5, 24.5], "nice": false, "zero": false}, "axis": null},
                    "y": {"field": "i", "type": "quantitative", "scale": {"domain": [0, 1135], "nice": false, "zero": false}, "axis": null},
                    "text": {"field": "label"},
                    "color": {"field": "pattern", "type": "nominal", "scale": {"domain": ["pristine", "extracted", "LiFePO4", "FePO4"], "range": ["#0b5d35", "#13a513", "#000080", "#032b03"]}, "legend": null}
                  }
                },
                {
                  "data": {"values": [
                    {"phase": "LFP", "t": 17.15, "i": 1246},
                    {"phase": "FP", "t": 18.0, "i": 1246},
                    {"phase": "LFP", "t": 22.65, "i": 1239},
                    {"phase": "FP", "t": 23.7, "i": 1239}
                  ]},
                  "mark": {"type": "text", "fontSize": 54, "fontWeight": "bold", "align": "center", "baseline": "alphabetic"},
                  "encoding": {
                    "x": {"field": "t", "type": "quantitative", "scale": {"domain": [15.5, 24.5], "nice": false, "zero": false}, "axis": null},
                    "y": {"field": "i", "type": "quantitative", "scale": {"domain": [0, 1135], "nice": false, "zero": false}, "axis": null},
                    "text": {"field": "phase"},
                    "color": {"condition": {"test": "datum.phase === 'LFP'", "value": "#0000cc"}, "value": "#0a2a0a"}
                  }
                },
                {
                  "data": {"values": [
                    {"phase": "LFP", "t": 17.15, "i": 1179, "hkl": "(200)"},
                    {"phase": "FP", "t": 18.0, "i": 1179, "hkl": "(200)"},
                    {"phase": "LFP", "t": 22.65, "i": 1176, "hkl": "(210)"},
                    {"phase": "FP", "t": 23.7, "i": 1176, "hkl": "(210)"}
                  ]},
                  "mark": {"type": "text", "fontSize": 46, "fontWeight": "bold", "align": "center", "baseline": "alphabetic"},
                  "encoding": {
                    "x": {"field": "t", "type": "quantitative", "scale": {"domain": [15.5, 24.5], "nice": false, "zero": false}, "axis": null},
                    "y": {"field": "i", "type": "quantitative", "scale": {"domain": [0, 1135], "nice": false, "zero": false}, "axis": null},
                    "text": {"field": "hkl"},
                    "color": {"condition": {"test": "datum.phase === 'LFP'", "value": "#0000cc"}, "value": "#0a2a0a"}
                  }
                },
                {
                  "data": {"values": [{"t": 14.962, "i": 1105, "text": "C"}]},
                  "mark": {"type": "text", "fontWeight": "bold", "fontSize": 86, "align": "left", "baseline": "alphabetic", "color": "black"},
                  "encoding": {
                    "x": {"field": "t", "type": "quantitative", "scale": {"domain": [15.5, 24.5], "nice": false, "zero": false}, "axis": null},
                    "y": {"field": "i", "type": "quantitative", "scale": {"domain": [0, 1135], "nice": false, "zero": false}, "axis": null},
                    "text": {"field": "text"}
                  }
                }
              ],
              "resolve": {"axis": {"x": "independent", "y": "independent"}}
            }
          ]
        }
      ]
    }
  ]
}
